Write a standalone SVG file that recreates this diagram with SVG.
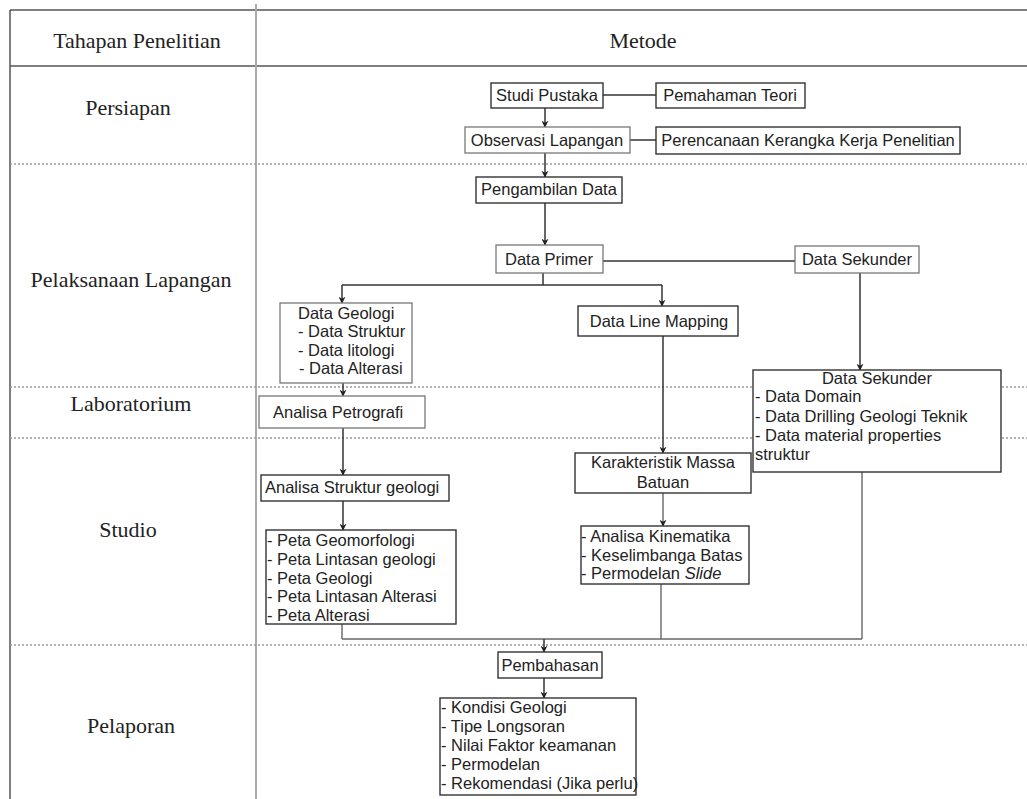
<svg xmlns="http://www.w3.org/2000/svg" width="1027" height="799" viewBox="0 0 1027 799">
<style>
.bg{fill:#fff}
.frame{stroke:#555;stroke-width:1.5;fill:none}
.divider{stroke:#aaa;stroke-width:2;fill:none}
.dot{stroke:#9a9a9a;stroke-width:1.6;stroke-dasharray:2 2;fill:none}
.stage{font-family:"Liberation Serif","Times New Roman",serif;font-size:22px;fill:#222;text-anchor:middle}
.box{fill:#fff;stroke:#333;stroke-width:1.4}
.box2{fill:#fff;stroke:#777;stroke-width:1.3}
.t{font-family:"Liberation Sans",Arial,sans-serif;font-size:16.5px;fill:#222}
.c{text-anchor:middle}
.ln{stroke:#333;stroke-width:1.5;fill:none}
.ln2{stroke:#666;stroke-width:1.4;fill:none}
.arr{marker-end:url(#ah)}
</style>
<defs>
<marker id="ah" viewBox="0 0 10 10" refX="9" refY="5" markerWidth="7" markerHeight="7" orient="auto" markerUnits="userSpaceOnUse">
<path d="M0,0 L10,5 L0,10 L3,5 z" fill="#222"/>
</marker>
</defs>
<rect class="bg" x="0" y="0" width="1027" height="799"/>
<g id="table">
<line class="frame" x1="10" y1="10" x2="1027" y2="10"/>
<line class="frame" x1="10" y1="66" x2="1027" y2="66"/>
<line class="frame" x1="10" y1="10" x2="10" y2="799"/>
<line class="divider" x1="256" y1="4" x2="256" y2="799"/>
<line class="dot" x1="10" y1="164" x2="1027" y2="164"/>
<line class="dot" x1="10" y1="387" x2="1027" y2="387"/>
<line class="dot" x1="10" y1="438" x2="1027" y2="438"/>
<line class="dot" x1="10" y1="645" x2="1027" y2="645"/>
<text class="stage" x="137" y="48">Tahapan Penelitian</text>
<text class="stage" x="643" y="48">Metode</text>
<text class="stage" x="128" y="115">Persiapan</text>
<text class="stage" x="131" y="287">Pelaksanaan Lapangan</text>
<text class="stage" x="131" y="411">Laboratorium</text>
<text class="stage" x="128" y="537">Studio</text>
<text class="stage" x="131" y="733">Pelaporan</text>
</g>
<g id="connectors">
<line class="ln" x1="603" y1="95" x2="656" y2="95"/>
<line class="ln" x1="630" y1="140" x2="656" y2="140"/>
<line class="ln arr" x1="545" y1="108" x2="545" y2="127"/>
<line class="ln arr" x1="545" y1="153" x2="545" y2="177"/>
<line class="ln arr" x1="545" y1="203" x2="545" y2="245"/>
<line class="ln" x1="603" y1="261" x2="795" y2="261"/>
<polyline class="ln" points="543,273 543,285"/>
<line class="ln" x1="342" y1="285" x2="662" y2="285"/>
<line class="ln arr" x1="342" y1="285" x2="342" y2="303"/>
<line class="ln arr" x1="662" y1="285" x2="662" y2="306"/>
<line class="ln arr" x1="860" y1="273" x2="860" y2="370"/>
<line class="ln arr" x1="343" y1="383" x2="343" y2="396"/>
<line class="ln arr" x1="663" y1="336" x2="663" y2="453"/>
<line class="ln arr" x1="343" y1="428" x2="343" y2="475"/>
<line class="ln arr" x1="343" y1="501" x2="343" y2="530"/>
<line class="ln2 arr" x1="663" y1="493" x2="663" y2="526"/>
<line class="ln2" x1="342" y1="624" x2="342" y2="639"/>
<line class="ln2" x1="661" y1="584" x2="661" y2="639"/>
<line class="ln2" x1="862" y1="472" x2="862" y2="639"/>
<line class="ln2" x1="342" y1="639" x2="862" y2="639"/>
<line class="ln arr" x1="544" y1="639" x2="544" y2="652"/>
<line class="ln arr" x1="544" y1="678" x2="544" y2="698"/>
</g>
<g id="studi-pustaka"><rect class="box" x="491" y="83" width="112" height="25"/><text class="t c" x="547" y="101">Studi Pustaka</text></g>
<g id="pemahaman-teori"><rect class="box" x="656" y="83" width="149" height="25"/><text class="t c" x="730" y="101">Pemahaman Teori</text></g>
<g id="observasi-lapangan"><rect class="box2" x="465" y="127" width="165" height="26"/><text class="t c" x="547" y="146">Observasi Lapangan</text></g>
<g id="perencanaan"><rect class="box" x="656" y="127" width="304" height="27"/><text class="t c" x="808" y="146">Perencanaan Kerangka Kerja Penelitian</text></g>
<g id="pengambilan-data"><rect class="box" x="476" y="177" width="146" height="26"/><text class="t c" x="549" y="195">Pengambilan Data</text></g>
<g id="data-primer"><rect class="box2" x="496" y="245" width="107" height="28"/><text class="t c" x="549" y="265">Data Primer</text></g>
<g id="data-sekunder"><rect class="box2" x="795" y="246" width="124" height="27"/><text class="t c" x="857" y="265">Data Sekunder</text></g>
<g id="data-geologi"><rect class="box2" x="280" y="303" width="132" height="80"/>
<text class="t" x="298" y="319">Data Geologi</text>
<text class="t" x="298" y="337">- Data Struktur</text>
<text class="t" x="298" y="356">- Data litologi</text>
<text class="t" x="299" y="374">- Data Alterasi</text></g>
<g id="data-line-mapping"><rect class="box" x="578" y="306" width="160" height="30"/><text class="t c" x="659" y="327">Data Line Mapping</text></g>
<g id="analisa-petrografi"><rect class="box2" x="259" y="396" width="166" height="32"/><text class="t" x="273" y="418">Analisa Petrografi</text></g>
<g id="data-sekunder-detail"><rect class="box" x="753" y="370" width="248" height="102"/>
<text class="t c" x="877" y="384">Data Sekunder</text>
<text class="t" x="755" y="402">- Data Domain</text>
<text class="t" x="755" y="422">- Data Drilling Geologi Teknik</text>
<text class="t" x="755" y="441">- Data material properties</text>
<text class="t" x="755" y="460">struktur</text></g>
<g id="karakteristik"><rect class="box" x="575" y="453" width="176" height="40"/>
<text class="t c" x="663" y="468">Karakteristik Massa</text>
<text class="t c" x="663" y="488">Batuan</text></g>
<g id="analisa-struktur"><rect class="box" x="261" y="475" width="188" height="26"/><text class="t" x="265" y="493">Analisa Struktur geologi</text></g>
<g id="peta"><rect class="box" x="266" y="530" width="190" height="94"/>
<text class="t" x="267" y="546">- Peta Geomorfologi</text>
<text class="t" x="267" y="565">- Peta Lintasan geologi</text>
<text class="t" x="267" y="584">- Peta Geologi</text>
<text class="t" x="267" y="602">- Peta Lintasan Alterasi</text>
<text class="t" x="267" y="621">- Peta Alterasi</text></g>
<g id="analisa-kinematika"><rect class="box" x="581" y="526" width="168" height="58"/>
<text class="t" x="581" y="542">- Analisa Kinematika</text>
<text class="t" x="581" y="561">- Keselimbanga Batas</text>
<text class="t" x="581" y="579">- Permodelan <tspan font-style="italic">Slide</tspan></text></g>
<g id="pembahasan"><rect class="box" x="498" y="652" width="104" height="26"/><text class="t c" x="550" y="671">Pembahasan</text></g>
<g id="hasil"><rect class="box" x="440" y="698" width="196" height="97"/>
<text class="t" x="441" y="713">- Kondisi Geologi</text>
<text class="t" x="441" y="732">- Tipe Longsoran</text>
<text class="t" x="441" y="751">- Nilai Faktor keamanan</text>
<text class="t" x="441" y="770">- Permodelan</text>
<text class="t" x="441" y="789">- Rekomendasi (Jika perlu)</text></g>
</svg>
